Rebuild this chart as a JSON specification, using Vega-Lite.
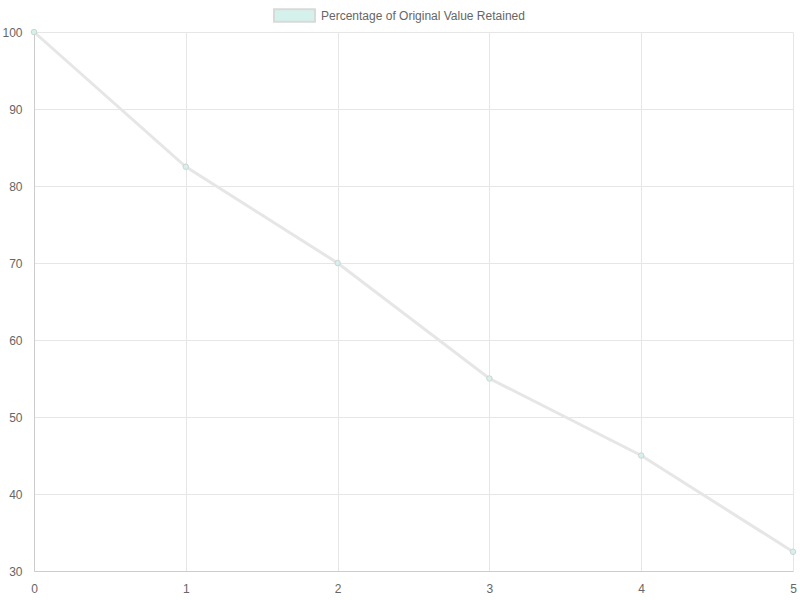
{
  "$schema": "https://vega.github.io/schema/vega-lite/v6.json",
  "width": 759,
  "height": 539,
  "autosize": {"type": "none"},
  "padding": {"left": 34, "top": 32, "right": 7, "bottom": 29},
  "background": "white",
  "config": {
    "view": {"stroke": null},
    "font": "Liberation Sans",
    "axis": {
      "labelFont": "Liberation Sans",
      "labelFontSize": 12,
      "labelColor": "#666666",
      "gridColor": "#e6e6e6",
      "gridWidth": 1,
      "domainColor": "#cccccc",
      "domainWidth": 1,
      "ticks": false,
      "title": null
    }
  },
  "data": {
    "values": [
      {"year": 0, "pct": 100, "series": "Percentage of Original Value Retained"},
      {"year": 1, "pct": 82.5, "series": "Percentage of Original Value Retained"},
      {"year": 2, "pct": 70, "series": "Percentage of Original Value Retained"},
      {"year": 3, "pct": 55, "series": "Percentage of Original Value Retained"},
      {"year": 4, "pct": 45, "series": "Percentage of Original Value Retained"},
      {"year": 5, "pct": 32.5, "series": "Percentage of Original Value Retained"}
    ]
  },
  "encoding": {
    "x": {
      "field": "year",
      "type": "quantitative",
      "scale": {"domain": [0, 5], "nice": false},
      "axis": {"values": [0, 1, 2, 3, 4, 5], "labelPadding": 12, "format": "d", "labelFlush": false}
    },
    "y": {
      "field": "pct",
      "type": "quantitative",
      "scale": {"domain": [30, 100], "nice": false, "zero": false},
      "axis": {"values": [30, 40, 50, 60, 70, 80, 90, 100], "labelPadding": 12, "labelFlush": false}
    }
  },
  "layer": [
    {
      "mark": {"type": "line", "color": "#e6e6e6", "strokeWidth": 3}
    },
    {
      "mark": {"type": "point", "filled": true, "size": 30, "strokeWidth": 1, "stroke": "#cdd5d4", "opacity": 1},
      "encoding": {
        "color": {
          "field": "series",
          "type": "nominal",
          "scale": {"range": ["#d5f1ec"]},
          "legend": {
            "title": null,
            "orient": "none",
            "legendX": 239,
            "legendY": -38,
            "symbolType": "M-1,-0.31H1V0.31H-1Z",
            "symbolSize": 1681,
            "symbolStrokeColor": "#d9d9d9",
            "symbolStrokeWidth": 2,
            "symbolFillColor": "#d5f3ee",
            "symbolOpacity": 1,
            "labelFont": "Liberation Sans",
            "labelFontSize": 12,
            "labelColor": "#666666",
            "labelOffset": 5,
            "labelLimit": 400
          }
        }
      }
    }
  ]
}
